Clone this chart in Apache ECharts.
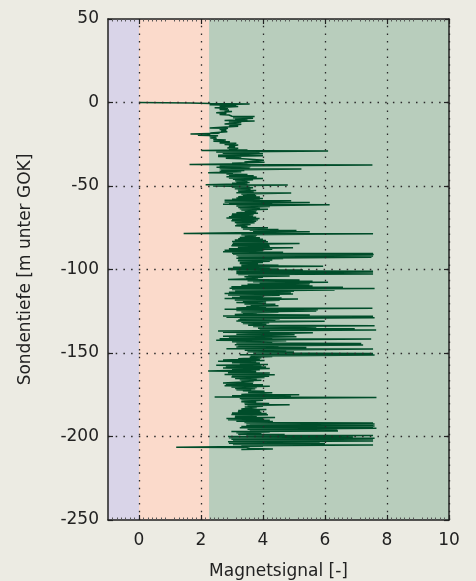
<!DOCTYPE html>
<html>
<head>
<meta charset="utf-8">
<script src="https://cdn.jsdelivr.net/npm/echarts@6/dist/echarts.min.js"></script>
<style>
html,body{margin:0;padding:0;background:#ecebe3;}
#chart{width:476px;height:581px;}
</style>
</head>
<body>
<div id="chart"></div>
<script>
// Tick labels
const xTicks = [0, 2, 4, 6, 8, 10];
const yGridLines = [-200, -150, -100, -50, 0];
// Classification bands on the signal axis: [from, to]
const bandEdges = [-1, 0, 2.26, 10];
const bandColors = ['#d9d4e8', '#fbdacb', '#b8cdbc'];

// Depth rows (m) with the low and high signal reached within each row
const depthM = [
  0, -0.6, -1.4, -2.2, -3.2, -4.2, -5.2, -6.2, -7.2, -8.2,
  -9.2, -10, -10.8, -11.6, -12.8, -14, -15.2, -16.2, -17.2, -18.2,
  -18.8, -19.6, -20.4, -21.2, -22.2, -23.2, -24.2, -25.2, -26.2, -27.2,
  -28.2, -28.8, -29.6, -30.4, -31.6, -32.4, -33.4, -34.4, -35.6, -36.4,
  -37.2, -38, -38.8, -39.6, -40.4, -41.2, -42, -42.8, -43.6, -44.4,
  -45.2, -46, -46.8, -47.6, -48.4, -49.2, -50, -50.8, -51.6, -52.4,
  -53.2, -54, -54.8, -55.6, -56.4, -57.2, -58, -58.6, -59.6, -60.2,
  -61, -62, -62.8, -63.6, -64.4, -65.2, -66, -66.8, -67.6, -68.4,
  -69.2, -70, -70.8, -71.8, -72.8, -73.8, -74.8, -75.8, -76.4, -77.2,
  -78.4, -79.2, -80, -80.8, -81.6, -82.4, -83.2, -84.2, -85, -85.8,
  -86.8, -87.6, -88.4, -89.4, -90.2, -90.8, -91.6, -92.4, -93.2, -94,
  -94.8, -95.6, -96.4, -97.2, -97.8, -98.6, -99.4, -100, -100.8, -101.6,
  -102.4, -103, -103.6, -104.4, -105.2, -106, -106.8, -107.4, -108, -108.8,
  -109.6, -110.4, -111.2, -112, -112.8, -113.6, -114.4, -115.2, -116, -116.8,
  -117.4, -118.2, -119, -119.8, -120.6, -121.4, -122.2, -123, -123.8, -124.6,
  -125.4, -126.2, -127, -127.8, -128.6, -129.4, -130.2, -130.8, -131.6, -132.4,
  -133.4, -134.2, -135.2, -136, -136.8, -137.6, -138.8, -140, -140.8, -141.4,
  -142.4, -143.2, -144, -145, -145.8, -146.4, -147.4, -148.4, -149.2, -150,
  -151, -151.8, -152.6, -153.4, -154.2, -155, -155.8, -156.6, -157.4, -158.2,
  -159, -159.8, -160.8, -161.8, -162.8, -163.6, -164.4, -165.2, -166, -166.8,
  -168, -168.8, -169.6, -170.4, -171.2, -172, -172.6, -173.6, -174.8, -175.6,
  -176.4, -177.2, -178, -179.2, -180, -180.8, -181.6, -182.4, -183.6, -184.4,
  -185.2, -186, -186.8, -187.6, -188.4, -189.2, -190, -190.8, -191.6, -192.2,
  -192.8, -193.4, -194, -194.8, -195.6, -196.4, -197, -197.8, -198.6, -199.2,
  -200, -200.8, -201.6, -202.4, -203.2, -204, -204.8, -205.6, -206.4, -207.2,
  -207.8
];
const lowSignal = [
  0, 2.3, 2.28, 2.6, 2.44, 2.6, 2.76, 2.49, 2.6, 3.0,
  3.03, 3.1, 2.76, 2.9, 2.76, 2.9, 2.28, 2.6, 2.65, 2.3,
  1.66, 1.9, 2.28, 2.3, 2.4, 2.4, 2.6, 2.76, 2.9, 2.85,
  2.9, 2.01, 2.49, 2.7, 2.55, 2.55, 2.8, 3.41, 3.4, 3.0,
  1.63, 2.6, 2.5, 2.6, 2.65, 2.6, 2.23, 2.82, 2.9, 2.82,
  2.9, 3.03, 3.1, 3.14, 3.0, 2.15, 2.39, 3.0, 3.09, 3.19,
  3.2, 3.14, 3.3, 3.35, 3.2, 3.14, 3.0, 2.76, 2.76, 2.9,
  2.71, 3.14, 3.2, 3.25, 3.3, 3.41, 3.14, 3.0, 2.98, 2.9,
  2.82, 3.0, 2.98, 3.09, 3.14, 3.1, 3.3, 3.35, 3.57, 3.68,
  1.44, 3.3, 3.41, 3.25, 3.2, 3.09, 3.0, 3.03, 3.0, 2.98,
  3.19, 2.9, 2.76, 2.71, 3.0, 3.03, 3.14, 3.2, 3.14, 3.2,
  3.19, 3.25, 3.25, 3.3, 3.3, 3.03, 2.87, 2.87, 3.14, 3.14,
  3.14, 3.2, 3.52, 3.4, 3.46, 2.87, 3.5, 3.68, 3.89, 3.5,
  3.3, 2.98, 2.92, 3.0, 3.1, 2.9, 2.76, 2.87, 3.25, 3.0,
  2.76, 3.09, 3.35, 3.14, 3.4, 3.6, 3.46, 3.14, 2.76, 3.14,
  3.3, 3.35, 3.09, 2.71, 2.82, 3.25, 3.2, 3.14, 3.3, 3.35,
  3.52, 3.68, 3.84, 3.89, 2.55, 2.71, 3.14, 2.71, 2.9, 2.6,
  2.49, 3.0, 3.14, 3.09, 3.2, 3.14, 2.82, 3.41, 3.5, 3.68,
  3.25, 3.6, 3.57, 3.2, 2.71, 2.55, 3.0, 3.25, 2.49, 2.8,
  2.71, 3.0, 2.23, 2.87, 2.76, 3.0, 2.98, 3.1, 3.25, 3.3,
  2.71, 2.8, 2.76, 2.98, 3.1, 3.14, 3.35, 3.52, 3.3, 3.0,
  2.44, 3.25, 3.3, 3.3, 3.4, 3.41, 3.5, 3.41, 3.3, 3.2,
  3.19, 3.0, 2.98, 3.1, 3.09, 2.82, 2.87, 3.14, 3.4, 3.46,
  3.57, 3.46, 3.3, 3.25, 3.5, 3.57, 2.98, 3.14, 3.2, 3.46,
  2.87, 2.9, 2.98, 3.03, 2.87, 2.9, 3.03, 3.3, 1.2, 3.57,
  3.3
];
const highSignal = [
  1.65, 3.57, 3.14, 3.2, 2.87, 2.9, 3.0, 2.82, 2.9, 3.73,
  3.68, 3.5, 3.73, 3.3, 3.3, 3.2, 2.87, 2.82, 2.85, 2.6,
  2.3, 2.55, 2.5, 2.5, 2.8, 2.93, 3.14, 3.2, 3.1, 3.2,
  3.5, 6.1, 3.89, 4.0, 4.0, 3.3, 3.35, 4.03, 4.05, 3.5,
  7.53, 3.6, 3.57, 5.24, 3.4, 3.3, 3.03, 3.5, 3.7, 3.8,
  4.0, 3.68, 3.5, 3.57, 3.5, 4.8, 3.57, 3.68, 3.6, 3.78,
  3.7, 4.91, 3.75, 3.78, 3.9, 4.0, 3.9, 4.91, 5.51, 4.3,
  6.15, 4.22, 3.9, 4.16, 3.8, 3.78, 3.84, 3.7, 3.68, 3.78,
  3.89, 3.84, 3.78, 3.73, 3.6, 3.5, 4.16, 4.5, 5.08, 5.51,
  7.55, 3.8, 3.78, 3.9, 4.0, 4.1, 4.16, 5.18, 4.2, 4.22,
  4.97, 4.3, 4.0, 4.65, 7.55, 7.57, 7.55, 7.5, 4.65, 4.3,
  4.22, 4.0, 3.84, 4.5, 5.94, 4.22, 4.5, 5.29, 7.55, 7.55,
  7.55, 4.8, 4.86, 4.0, 3.84, 5.18, 5.6, 6.1, 5.51, 5.5,
  5.6, 6.58, 7.6, 6.31, 5.0, 4.9, 4.97, 4.54, 4.0, 4.6,
  5.13, 4.54, 4.1, 4.1, 4.4, 4.5, 4.1, 7.53, 5.77, 5.72,
  4.5, 3.8, 5.51, 7.55, 7.6, 4.54, 4.4, 5.99, 4.2, 4.11,
  7.6, 5.72, 6.96, 7.65, 4.22, 5.61, 5.02, 5.08, 4.3, 7.49,
  4.75, 4.3, 7.17, 7.23, 4.5, 5.4, 7.55, 4.75, 5.0, 7.55,
  7.6, 4.3, 3.95, 3.9, 4.05, 3.78, 3.9, 4.16, 3.95, 4.1,
  4.22, 3.9, 3.78, 4.22, 4.38, 4.2, 4.05, 3.8, 3.95, 3.7,
  3.68, 4.0, 4.22, 3.8, 3.75, 3.62, 4.05, 4.3, 5.17, 4.9,
  7.66, 4.1, 4.0, 3.78, 4.2, 4.86, 4.0, 3.8, 4.11, 3.9,
  3.95, 4.12, 4.16, 3.8, 4.39, 4.0, 4.22, 4.32, 7.55, 7.6,
  7.55, 7.6, 7.55, 7.66, 6.4, 6.42, 4.22, 3.95, 4.7, 7.55,
  6.9, 7.6, 7.55, 7.55, 5.83, 6.0, 7.55, 4.0, 3.46, 4.32,
  3.3
];

const points = [];
for (let i = 0; i < depthM.length; i++) {
  points.push([lowSignal[i], depthM[i]]);
  points.push([highSignal[i], depthM[i] - 0.25]);
}

const bands = [];
for (let i = 0; i < bandColors.length; i++) {
  bands.push([{ xAxis: bandEdges[i], itemStyle: { color: bandColors[i] } }, { xAxis: bandEdges[i + 1] }]);
}
const gridMarks = xTicks.map(v => ({ xAxis: v })).concat(yGridLines.map(v => ({ yAxis: v })));

const txt = { color: '#222', fontFamily: 'DejaVu Sans', fontSize: 17 };
const axisLineStyle = { show: true, onZero: false, lineStyle: { color: '#222', width: 1.5 } };

function xAxisDef(pos, labels) {
  return {
    type: 'value', min: -1, max: 10, interval: 1, position: pos, z: 10,
    axisLine: axisLineStyle,
    axisTick: { show: true, inside: true, length: 5, customValues: xTicks, lineStyle: { color: '#222', width: 1.2 } },
    minorTick: { show: true, splitNumber: 7, length: 2.5, lineStyle: { color: '#555', width: 1 } },
    axisLabel: labels ? Object.assign({ show: true, margin: 12, customValues: xTicks }, txt) : { show: false },
    splitLine: { show: false },
    name: labels ? 'Magnetsignal [-]' : '',
    nameLocation: 'middle', nameGap: 43,
    nameTextStyle: txt
  };
}
function yAxisDef(pos, labels) {
  return {
    type: 'value', min: -250, max: 50, interval: 50, position: pos, z: 10,
    axisLine: axisLineStyle,
    axisTick: { show: true, inside: true, length: 5, lineStyle: { color: '#222', width: 1.2 } },
    axisLabel: labels ? Object.assign({ show: true, margin: 9 }, txt) : { show: false },
    splitLine: { show: false },
    name: labels ? 'Sondentiefe [m unter GOK]' : '',
    nameLocation: 'middle', nameGap: 74,
    nameTextStyle: txt
  };
}

const chart = echarts.init(document.getElementById('chart'), null, { renderer: 'canvas' });
chart.setOption({
  backgroundColor: '#ecebe3',
  animation: false,
  grid: { left: 108, right: 27, top: 19, bottom: 61, containLabel: false, outerBoundsMode: 'none' },
  xAxis: [xAxisDef('bottom', true), xAxisDef('top', false)],
  yAxis: [yAxisDef('left', true), yAxisDef('right', false)],
  series: [
    { type: 'line', data: [], z: 1, silent: true, markArea: { silent: true, data: bands } },
    { type: 'line', data: [], z: 2, silent: true,
      markLine: { silent: true, symbol: 'none', label: { show: false },
        lineStyle: { type: [1.5, 6.2], color: '#2a2a2a', width: 1.3 }, data: gridMarks } },
    { type: 'line', data: points, z: 3, showSymbol: false, symbol: 'none',
      lineStyle: { color: '#004d2a', width: 1.5 } }
  ]
});
</script>
</body>
</html>
